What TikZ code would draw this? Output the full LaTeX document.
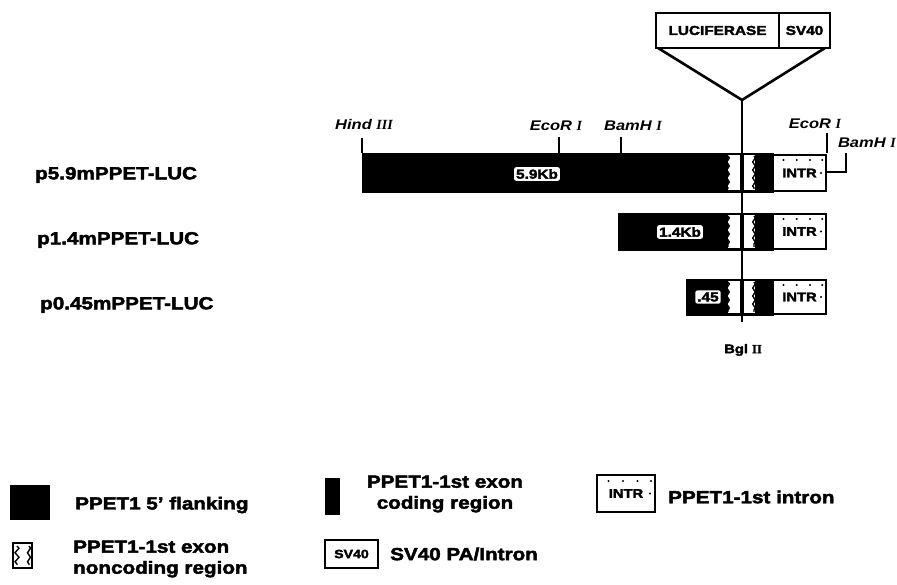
\documentclass[tikz,border=0pt]{standalone}
\usepackage{fontspec}
\setmainfont{Liberation Sans}[FakeStretch=1.18, BoldFeatures={FakeBold=2.5}]
\newfontfamily\numserif{Liberation Serif}[BoldFeatures={FakeBold=1.5}]
\usetikzlibrary{decorations.pathmorphing,calc}
\tikzset{
  box/.style={rectangle, inner sep=0pt, outer sep=0pt, anchor=north west},
  flank/.style={box, fill=black, draw=black},
  intrbox/.style={box, fill=white, draw=black, line width=1.8pt, font=\bfseries\fontsize{12.5}{14}\selectfont},
  exonbox/.style={box, fill=white},
  jag/.style={draw=black, line width=1.4pt, decorate, decoration={zigzag, amplitude=1.3pt, segment length=8pt}},
  kb/.style={fill=white, rounded corners=2pt, inner sep=2pt, font=\bfseries\fontsize{13}{14}\selectfont},
  site/.style={line width=1.4pt},
  sitelbl/.style={font=\bfseries\itshape\fontsize{14}{15}\selectfont, inner sep=0pt},
  plbl/.style={font=\bfseries\fontsize{17.5}{19}\selectfont, anchor=west, inner sep=0pt},
  leg/.style={font=\bfseries\fontsize{17.5}{21}\selectfont, inner sep=0pt, align=left},
  topbox/.style={box, draw=black, line width=1.8pt, fill=white, font=\bfseries\fontsize{13}{14}\selectfont},
  dot/.style={fill=black, circle, inner sep=0.8pt}
}
\newcommand{\rn}[1]{{\numserif\itshape\bfseries #1}}
\begin{document}
\begin{tikzpicture}[x=1pt,y=-1pt]
\useasboundingbox (0,0) rectangle (897,585);

% ---- top insert ----
\node[topbox, minimum width=123, minimum height=35] (luc) at (656,13) {LUCIFERASE};
\node[topbox, minimum width=51, minimum height=35] (sv) at (779,13) {SV40};
\coordinate (apex) at (742,100);
\draw[line width=2.6pt, line join=miter] ([xshift=2pt]luc.south west) -- (apex) -- ([xshift=-5pt]sv.south east);

% ---- row 1 ----
\node[flank, minimum width=411, minimum height=39] (bar1) at (362,153) {};
\node[exonbox, minimum width=27, minimum height=35] (ex1) at (728,155) {};
\node[intrbox, minimum width=53, minimum height=36] (in1) at (773,155) {INTR};
\node[kb] (kb1) at (537,174) {5.9Kb};

% ---- row 2 ----
\node[flank, minimum width=155, minimum height=37] (bar2) at (618,213) {};
\node[exonbox, minimum width=27, minimum height=33] (ex2) at (728,215) {};
\node[intrbox, minimum width=53, minimum height=35] (in2) at (773,214) {INTR};
\node[kb] (kb2) at (680,232) {1.4Kb};

% ---- row 3 ----
\node[flank, minimum width=87, minimum height=36] (bar3) at (686,279) {};
\node[exonbox, minimum width=27, minimum height=32] (ex3) at (728,281) {};
\node[intrbox, minimum width=53, minimum height=34] (in3) at (773,280) {INTR};
\node[kb] (kb3) at (708,297) {.45};

% jagged edges of the noncoding exon parts
\foreach \e in {ex1,ex2,ex3}{
  \draw[jag] ([yshift=-1pt]\e.north west) -- ([yshift=1pt]\e.south west);
  \draw[jag] ([yshift=-1pt,xshift=-1pt]\e.north east) -- ([yshift=1pt,xshift=-1pt]\e.south east);
}
% intron dots
\foreach \b in {in1,in2,in3}{
  \foreach \f in {0.2,0.45,0.7,0.93}{
    \node[dot] at ($(\b.north west)!\f!(\b.north east)+(0,5)$) {};
  }
  \node[dot] at ($(\b.east)+(-5,0)$) {};
}

% vertical Bgl II line
\node[font=\bfseries\fontsize{12.5}{14}\selectfont, inner sep=0pt] (bgl) at (743,350) {Bgl {\numserif\bfseries II}};
\draw[line width=2.2pt] (apex) -- ([yshift=22pt]bgl.north -| apex);
\foreach \e in {ex1,ex2,ex3}{
  \fill[black] ([xshift=-2pt]\e.north -| apex) rectangle ([xshift=2pt]\e.south -| apex);
}

% ---- plasmid names ----
\node[plbl] (p1) at (35,175) {p5.9mPPET-LUC};
\node[plbl] (p2) at (37,240) {p1.4mPPET-LUC};
\node[plbl] (p3) at (40,305) {p0.45mPPET-LUC};

% ---- restriction sites ----
\node[sitelbl] (hind) at (364,125) {Hind \rn{III}};
\coordinate (hindt) at (362,138);
\draw[site] (hindt) -- (bar1.north west);

\node[sitelbl] (eco1) at (556,126) {EcoR \rn{I}};
\coordinate (eco1t) at (559,137);
\draw[site] (eco1t) -- (eco1t |- bar1.north);

\node[sitelbl] (bam1) at (633,126) {BamH \rn{I}};
\coordinate (bam1t) at (621,137);
\draw[site] (bam1t) -- (bam1t |- bar1.north);

\node[sitelbl] (eco2) at (815,124) {EcoR \rn{I}};
\coordinate (eco2t) at (827,133);
\draw[site] (eco2t) -- (eco2t |- bar1.north);

\node[sitelbl, anchor=east] (bam2) at (896,143) {BamH \rn{I}};
\coordinate (bam2a) at (826,172);
\coordinate (bam2b) at (846,153);
\draw[site] (bam2a) -| (bam2b);

% ---- legend ----
\node[box, fill=black, minimum width=40, minimum height=35] (lflank) at (10,485) {};
\node[leg, anchor=west] (tflank) at (75,505) {PPET1 5' flanking};

\node[box, draw=black, fill=white, line width=2pt, minimum width=19, minimum height=25] (lnc) at (13,543) {};
\draw[jag, decoration={zigzag, amplitude=2pt, segment length=9pt}] ([xshift=4pt,yshift=-3pt]lnc.north west) -- ([xshift=4pt,yshift=3pt]lnc.south west);
\draw[jag, decoration={zigzag, amplitude=1.5pt, segment length=9pt}] ([xshift=-3pt,yshift=-3pt]lnc.north east) -- ([xshift=-3pt,yshift=3pt]lnc.south east);
\node[leg, anchor=west] (tnc) at (73,559) {PPET1-1st exon\\noncoding region};

\node[box, fill=black, minimum width=15, minimum height=37] (lcod) at (325,478) {};
\node[leg, align=center] (tcod) at (445,494) {PPET1-1st exon\\coding region};

\node[box, draw=black, line width=1.6pt, minimum width=53, minimum height=28, font=\bfseries\fontsize{12}{13}\selectfont] (lsv) at (325,540) {SV40};
\node[leg, anchor=west] (tsv) at (390,554) {SV40 PA/Intron};

\node[intrbox, minimum width=58, minimum height=37] (lin) at (597,475) {INTR};
\foreach \f in {0.2,0.45,0.7,0.93}{
  \node[dot] at ($(lin.north west)!\f!(lin.north east)+(0,6)$) {};
}
\node[dot] at ($(lin.east)+(-5,0)$) {};
\node[leg, anchor=west] (tin) at (668,497) {PPET1-1st intron};
\end{tikzpicture}
\end{document}
